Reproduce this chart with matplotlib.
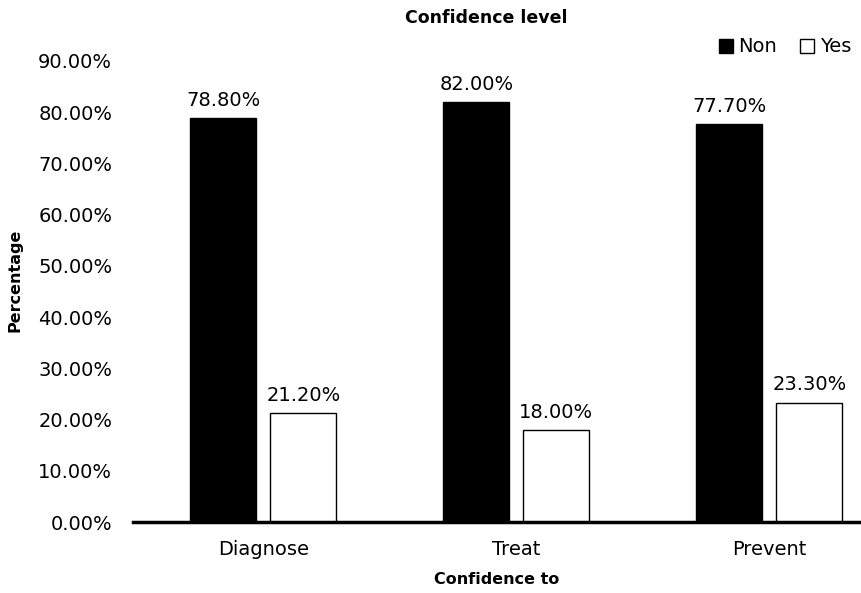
import numpy as np
import matplotlib.pyplot as plt
from matplotlib.ticker import FuncFormatter

categories = ['Diagnose', 'Treat', 'Prevent']
non_vals = [78.8, 82.0, 77.7]
yes_vals = [21.2, 18.0, 23.3]
y_ticks = [0, 10, 20, 30, 40, 50, 60, 70, 80, 90]

plt.rcParams['font.family'] = ['DejaVu Sans']

fig = plt.figure(figsize=(8.61, 5.93), dpi=100)
ax = fig.add_axes([133 / 861, 71 / 593, 728 / 861, 461 / 593])

x = np.arange(len(categories))
w = 0.26
off = 0.158
b1 = ax.bar(x - off, non_vals, w, color='black', edgecolor='black', linewidth=1, label='Non')
b2 = ax.bar(x + off, yes_vals, w, color='white', edgecolor='black', linewidth=1, label='Yes')

for bars, vals in [(b1, non_vals), (b2, yes_vals)]:
    for b, v in zip(bars, vals):
        ax.text(b.get_x() + b.get_width() / 2, v + 1.6, '%.2f%%' % v,
                ha='center', va='bottom', fontsize=14)

ax.set_xlim(-0.515, -0.515 + 728 / 253)
ax.set_ylim(0, 90)
ax.set_yticks(y_ticks)
ax.yaxis.set_major_formatter(FuncFormatter(lambda v, p: '%.2f%%' % v))
ax.set_xticks(x)
ax.set_xticklabels(categories)
ax.tick_params(axis='both', length=0, labelsize=14)
ax.tick_params(axis='y', pad=15)
ax.tick_params(axis='x', pad=13)

for s in ['top', 'right', 'left']:
    ax.spines[s].set_visible(False)
ax.spines['bottom'].set_linewidth(2.5)

ax.set_xlabel('Confidence to', fontsize=11.5, fontweight='bold', labelpad=9)
fig.text(0.018, 1 - 280 / 593, 'Percentage', rotation=90, ha='center', va='center',
         fontsize=11.5, fontweight='bold')
fig.text(486 / 861, 1 - 18 / 593, 'Confidence level', ha='center', va='center',
         fontsize=12.5, fontweight='bold')

fig.legend(handles=[b1, b2], labels=['Non', 'Yes'], loc='center right',
           bbox_to_anchor=(1.0, 1 - 47 / 593), ncol=2, frameon=False,
           fontsize=14, handlelength=0.7, handleheight=0.7, handletextpad=0.3,
           columnspacing=1.2, borderaxespad=0.1)

fig.savefig('out.png', dpi=100)
